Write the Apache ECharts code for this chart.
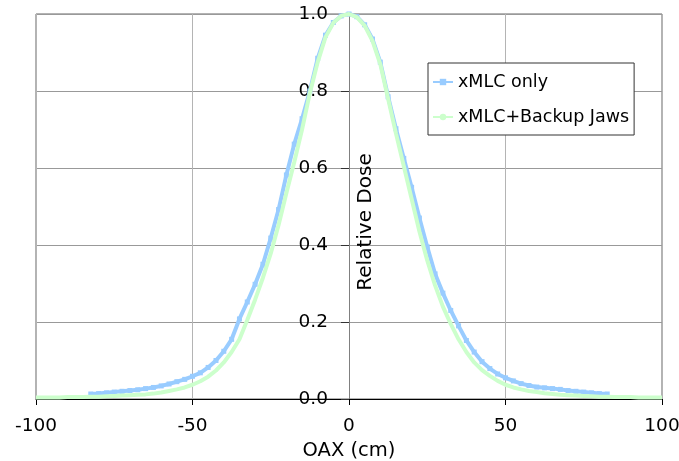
<!DOCTYPE html>
<html>
<head>
<meta charset="utf-8">
<script src="https://cdn.jsdelivr.net/npm/echarts@6/dist/echarts.min.js"></script>
<style>html,body{margin:0;padding:0;background:#fff}#c{width:679px;height:461px}</style>
</head>
<body>
<div id="c"></div>
<script>
const xTicks = [-100, -50, 0, 50, 100];
const yTicks = [0, 0.2, 0.4, 0.6, 0.8, 1.0];

const blueX = [-82.5,-80,-77.5,-75,-72.5,-70,-67.5,-65,-62.5,-60,-57.5,-55,-52.5,-50,-47.5,-45,-42.5,-40,-37.5,-35,-32.5,-30,-27.5,-25,-22.5,-20,-17.5,-15,-12.5,-10,-7.5,-5,-2.5,0,2.5,5,7.5,10,12.5,15,17.5,20,22.5,25,27.5,30,32.5,35,37.5,40,42.5,45,47.5,50,52.5,55,57.5,60,62.5,65,67.5,70,72.5,75,77.5,80,82.5];
const blueY = [0.013,0.014,0.016,0.018,0.020,0.022,0.024,0.027,0.030,0.034,0.039,0.045,0.051,0.059,0.068,0.082,0.100,0.124,0.155,0.208,0.252,0.298,0.350,0.418,0.492,0.582,0.662,0.728,0.800,0.885,0.945,0.978,0.995,1.000,0.993,0.972,0.935,0.875,0.785,0.702,0.625,0.550,0.470,0.395,0.325,0.275,0.230,0.190,0.152,0.122,0.097,0.079,0.065,0.055,0.047,0.040,0.035,0.031,0.029,0.027,0.025,0.022,0.020,0.018,0.016,0.014,0.013];

const greenX = [-100,-97.5,-95,-92.5,-90,-87.5,-85,-82.5,-80,-77.5,-75,-72.5,-70,-67.5,-65,-62.5,-60,-57.5,-55,-52.5,-50,-47.5,-45,-42.5,-40,-37.5,-35,-32.5,-30,-27.5,-25,-22.5,-20,-17.5,-15,-12.5,-10,-7.5,-5,-2.5,0,2.5,5,7.5,10,12.5,15,17.5,20,22.5,25,27.5,30,32.5,35,37.5,40,42.5,45,47.5,50,52.5,55,57.5,60,62.5,65,67.5,70,72.5,75,77.5,80,82.5,85,87.5,90,92.5,95,97.5,100];
const greenY = [0.004,0.004,0.004,0.004,0.005,0.005,0.005,0.006,0.006,0.007,0.008,0.009,0.010,0.011,0.012,0.014,0.017,0.021,0.025,0.030,0.037,0.046,0.058,0.074,0.095,0.122,0.155,0.205,0.258,0.315,0.378,0.452,0.535,0.615,0.700,0.795,0.875,0.940,0.977,0.995,1.000,0.992,0.970,0.930,0.870,0.780,0.690,0.605,0.520,0.435,0.360,0.295,0.240,0.195,0.155,0.122,0.095,0.075,0.060,0.047,0.037,0.030,0.025,0.021,0.018,0.015,0.013,0.011,0.010,0.009,0.008,0.007,0.006,0.006,0.005,0.005,0.005,0.004,0.004,0.004,0.004];

const seriesNames = ['xMLC only', 'xMLC+Backup Jaws'];
const xName = 'OAX (cm)';
const yName = 'Relative Dose';

const W = 679, gridLeft = 36, gridRight = 17;
const xMin = xTicks[0], xMax = xTicks[xTicks.length - 1];
// shift the y axis from the grid's left edge to x = 0
const yAxisOffset = -(W - gridLeft - gridRight) * (0 - xMin) / (xMax - xMin);

const font = '"DejaVu Sans", "Liberation Sans", Arial, sans-serif';
const chart = echarts.init(document.getElementById('c'), null, {renderer: 'canvas'});
chart.setOption({
  animation: false,
  backgroundColor: '#ffffff',
  grid: {left: gridLeft, right: gridRight, top: 14, bottom: 62, containLabel: false, outerBoundsMode: 'none',
         show: true, borderColor: '#666666', borderWidth: 1, backgroundColor: 'transparent'},
  legend: {
    orient: 'vertical', left: 428, top: 63,
    backgroundColor: '#ffffff', borderColor: '#333333', borderWidth: 1,
    padding: [10, 5, 9, 4], itemGap: 17, itemWidth: 20, itemHeight: 8,
    textStyle: {fontFamily: font, fontSize: 17.5, color: '#000'},
    data: seriesNames
  },
  graphic: [{
    type: 'text', x: 366, y: 222, rotation: Math.PI / 2, z: 10,
    style: {text: yName, fontFamily: font, fontSize: 20, fill: '#000', align: 'center', verticalAlign: 'middle'}
  }],
  xAxis: {
    type: 'value', min: xMin, max: xMax, interval: 50,
    name: xName, nameLocation: 'middle', nameGap: 41,
    nameTextStyle: {fontFamily: font, fontSize: 19.5, color: '#000'},
    axisLine: {onZero: false, lineStyle: {color: '#000', width: 1}},
    axisTick: {show: true, length: 6, lineStyle: {color: '#000'}},
    axisLabel: {fontFamily: font, fontSize: 18.5, color: '#000', margin: 18},
    splitLine: {show: true, lineStyle: {color: '#b4b4b4', width: 1}}
  },
  yAxis: {
    type: 'value', min: yTicks[0], max: yTicks[yTicks.length - 1], interval: 0.2,
    position: 'left', offset: yAxisOffset,
    axisLine: {onZero: false, lineStyle: {color: '#808080', width: 1}},
    axisTick: {show: true, length: 8, lineStyle: {color: '#333'}},
    axisLabel: {fontFamily: font, fontSize: 18.5, color: '#000', margin: 21, formatter: v => v.toFixed(1)},
    splitLine: {show: true, lineStyle: {color: '#999999', width: 1}}
  },
  series: [
    {
      name: seriesNames[0], type: 'line',
      data: blueX.map((x, i) => [x, blueY[i]]),
      symbol: 'rect', symbolSize: 5, showSymbol: true,
      itemStyle: {color: '#99ccff'},
      lineStyle: {color: '#99ccff', width: 4},
      z: 2
    },
    {
      name: seriesNames[1], type: 'line',
      data: greenX.map((x, i) => [x, greenY[i]]),
      symbol: 'none',
      itemStyle: {color: '#ccffcc'},
      lineStyle: {color: '#ccffcc', width: 4},
      z: 3
    }
  ]
});
</script>
</body>
</html>
